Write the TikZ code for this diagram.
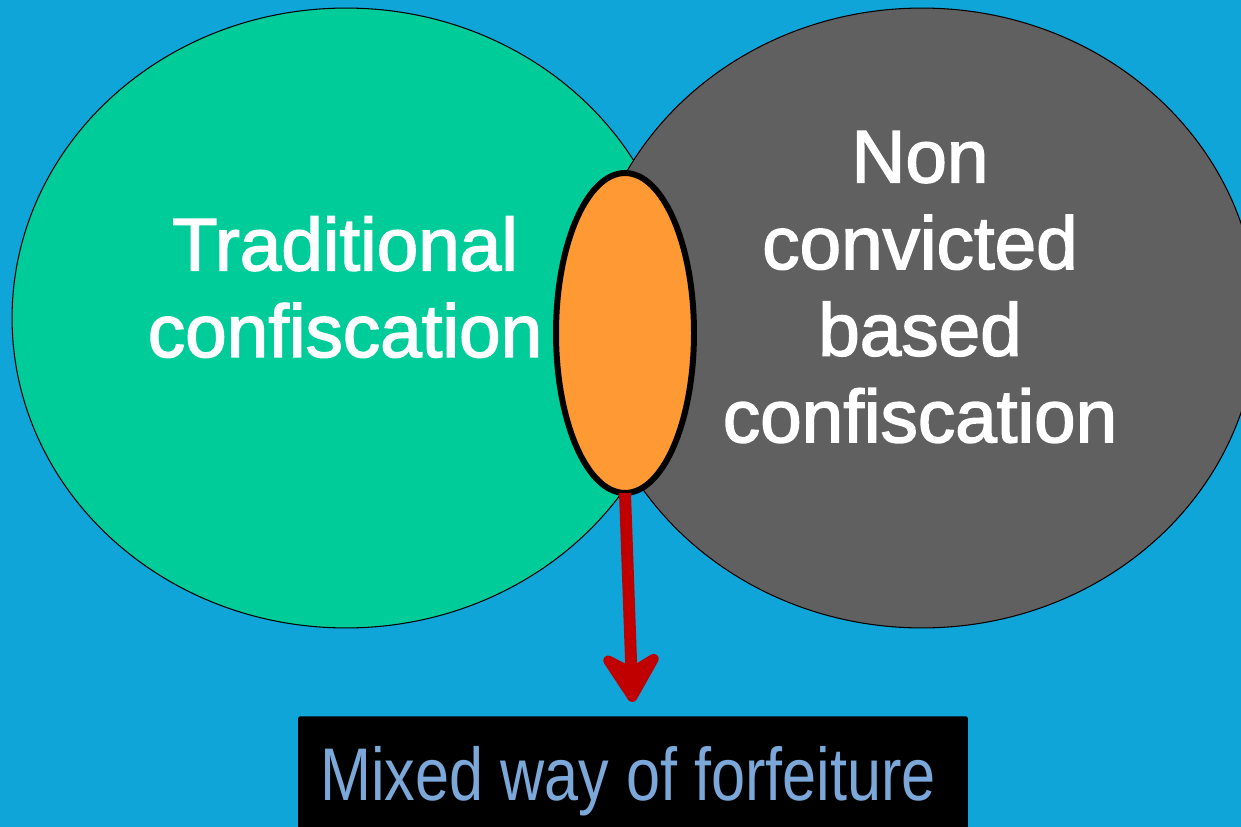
\documentclass[tikz,border=0pt]{standalone}
\usepackage{fontspec}
\setmainfont{Liberation Sans}
\newfontfamily\heavyfont[FakeBold=2]{Liberation Sans}
\newfontfamily\narrowfont[FakeStretch=0.82]{Liberation Sans}
\usepackage{tikz}
\usetikzlibrary{positioning, shapes.geometric, arrows.meta}
\definecolor{bgblue}{HTML}{10A5D8}
\definecolor{tradgreen}{HTML}{00CC99}
\definecolor{ncgrey}{HTML}{606060}
\definecolor{mixorange}{HTML}{FF9933}
\definecolor{arrowred}{HTML}{C00000}
\definecolor{mixblue}{HTML}{7BA7D9}
\tikzset{
	bubble/.append style={
		ellipse,
		draw,
		line width=0.6pt,
		inner sep=0mm,
		outer sep=0mm,
	},
	labe/.append style={
		align = center,
		text=white,
		font={\heavyfont\fontsize{42.5}{49.3}\selectfont}
	},
	overlap/.append style={
		bubble,
		fill=mixorange,
		line width=3.4pt,
		minimum width=2.76cm,
		minimum height=6.4cm
	},
	resultbox/.append style={
		fill=black,
		rounded corners=1pt,
		minimum width=13.4cm,
		minimum height=2.6cm,
		text=mixblue,
		font={\narrowfont\fontsize{42.5}{49.3}\selectfont}
	}
}

\begin{document}
\begin{tikzpicture}[x=0.02cm, y=-0.02cm]
		\path[use as bounding box, fill=bgblue] (0,0) rectangle (1241,827);
		\clip (0,0) rectangle (1241,827);

		\node(trad)[bubble, fill=tradgreen, minimum width=13.36cm, minimum height=12.4cm] at (346,318) {};
		\node(noncon)[bubble, fill=ncgrey, minimum width=13.4cm, minimum height=12.4cm] at (922,318) {};
		\node(mixed)[overlap] at (625,333) {};

		\node(tradlbl)[labe] at (345,287) {Traditional\\confiscation};
		\node(nonconlbl)[labe] at (920,287) {Non\\convicted\\based\\confiscation};

		\node(result)[resultbox, anchor=north] at (633,716) {Mixed way of forfeiture\kern0.2cm};

		\draw[arrowred, line width=6.8pt, shorten >=0.28cm, -{Stealth[round, width=1.45cm, length=1.2cm, inset=0.4cm]}] (mixed.south) -- (result.north);
\end{tikzpicture}
\end{document}
